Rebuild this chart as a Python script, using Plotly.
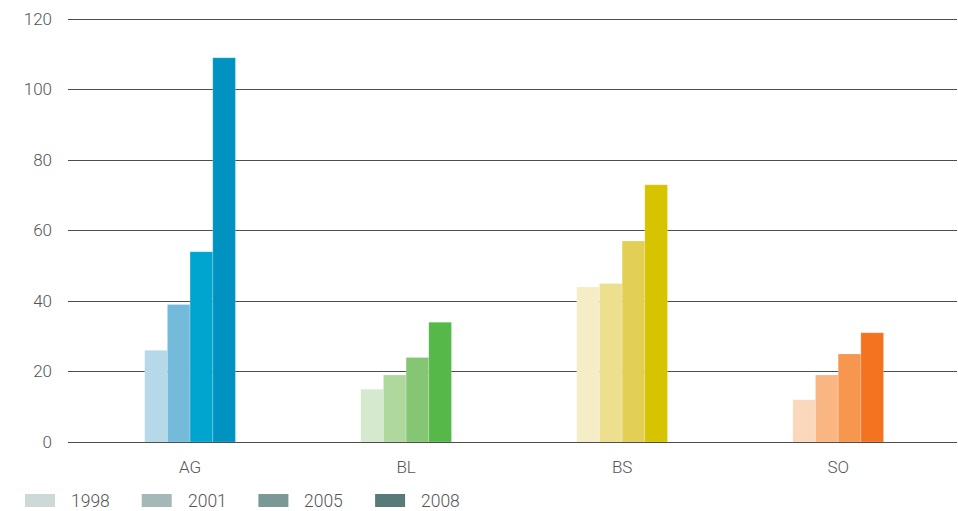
import plotly.graph_objects as go

categories = ["AG", "BL", "BS", "SO"]
years = ["1998", "2001", "2005", "2008"]

values_1998 = [26, 15, 44, 12]
values_2001 = [39, 19, 45, 19]
values_2005 = [54, 24, 57, 25]
values_2008 = [109, 34, 73, 31]

colors_1998 = ["#b5d9e8", "#d5e9cf", "#f4edc5", "#fbd8bc"]
colors_2001 = ["#74bbdb", "#aed89e", "#ecdf8d", "#f9b582"]
colors_2005 = ["#00a5cf", "#85c673", "#e1cf56", "#f7974f"]
colors_2008 = ["#0093c2", "#55b849", "#d6c400", "#f37321"]

legend_colors = ["#ccd9d8", "#a3b8b7", "#7a9896", "#587a78"]

y_ticks = [0, 20, 40, 60, 80, 100, 120]

series = [
    (years[0], values_1998, colors_1998),
    (years[1], values_2001, colors_2001),
    (years[2], values_2005, colors_2005),
    (years[3], values_2008, colors_2008),
]

FONT = "Roboto"
TEXT_COLOR = "#555555"

# plot area geometry (pixels)
L, R, T, B = 68, 1, 15, 69
PW, PH = 958 - L - R, 511 - T - B
Y0 = 511 - B  # pixel row of y=0

fig = go.Figure()
for name, vals, cols in series:
    fig.add_trace(go.Bar(
        x=categories, y=vals, name=name,
        marker=dict(color=cols, line=dict(width=0.6, color="rgba(255,255,255,0.35)")),
        showlegend=False,
        hoverinfo="x+y+name",
    ))

# Custom legend (wide swatches) built from the year list
for i, (yr, col) in enumerate(zip(years, legend_colors)):
    x0 = 25 + i * 116.7
    fig.add_shape(type="rect", xref="paper", yref="paper",
                  x0=(x0 - L) / PW, x1=(x0 + 30 - L) / PW,
                  y0=(Y0 - 507) / PH, y1=(Y0 - 494) / PH,
                  fillcolor=col, line=dict(width=0), layer="above")
    fig.add_annotation(xref="paper", yref="paper",
                       x=(x0 + 44 - L) / PW, y=(Y0 - 500.5) / PH,
                       xanchor="left", yanchor="middle", text=yr, showarrow=False,
                       font=dict(family=FONT, size=17.5, color=TEXT_COLOR, weight=300))

fig.update_layout(
    width=958, height=511,
    margin=dict(l=L, r=R, t=T, b=B),
    paper_bgcolor="white", plot_bgcolor="white",
    barmode="group", bargap=0.58, bargroupgap=0,
    font=dict(family=FONT, size=17, color=TEXT_COLOR, weight=300),
    showlegend=False,
    xaxis=dict(
        range=[-0.565, 3.55],
        showgrid=False, zeroline=False, showline=False,
        ticks="", tickfont=dict(size=17, color=TEXT_COLOR),
        ticklabelstandoff=13,
    ),
    yaxis=dict(
        range=[0, 120 * PH / 423], tickvals=y_ticks,
        showgrid=True, gridcolor="#4d4d4d", gridwidth=1.2,
        zeroline=True, zerolinecolor="#4d4d4d", zerolinewidth=1.4,
        showline=False, ticks="",
        tickfont=dict(size=17, color=TEXT_COLOR),
        ticklabelstandoff=15,
    ),
)

fig.write_html("out.html", config={"displayModeBar": False},
               post_script="document.body.style.margin='0';document.body.style.overflow='hidden';")
